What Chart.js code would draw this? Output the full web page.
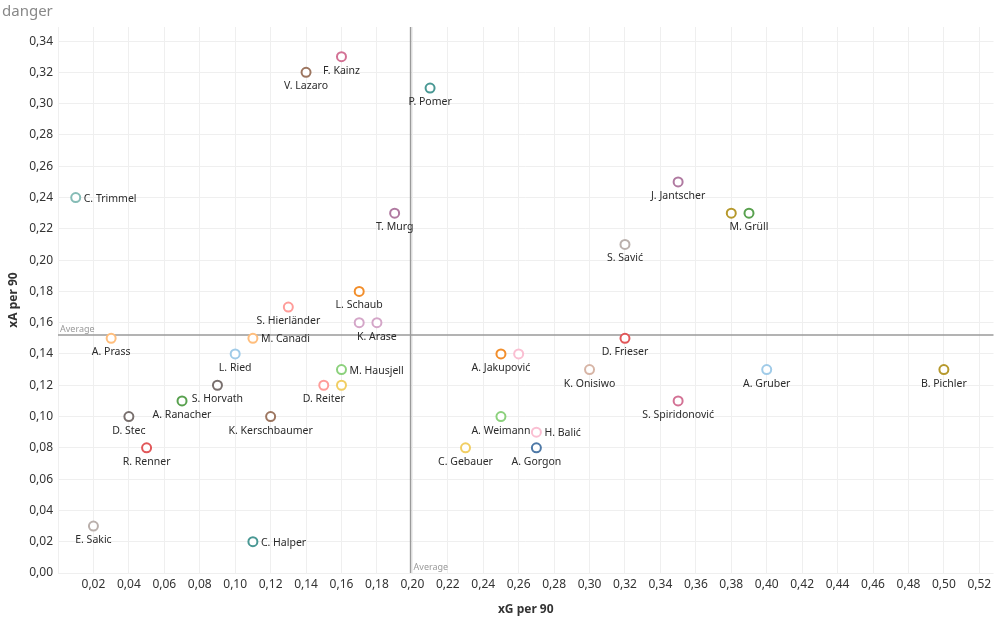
<!DOCTYPE html>
<html>
<head>
<meta charset="utf-8">
<script src="https://cdn.jsdelivr.net/npm/chart.js@4"></script>
<style>
  html, body { margin: 0; padding: 0; background: #fff; }
  #wrap { width: 1000px; height: 619px; }
</style>
</head>
<body>
<div id="wrap"><canvas id="chart" width="1000" height="619"></canvas></div>
<script>
// player names ('' = point drawn without a label)
const players = [
  "F. Kainz", "V. Lazaro", "P. Pomer", "C. Trimmel", "T. Murg", "J. Jantscher",
  "", "M. Grüll", "S. Savić", "L. Schaub", "S. Hierländer", "", "K. Arase",
  "A. Prass", "M. Canadi", "D. Frieser", "L. Ried", "A. Jakupović", "",
  "M. Hausjell", "K. Onisiwo", "A. Gruber", "B. Pichler", "S. Horvath",
  "D. Reiter", "", "A. Ranacher", "S. Spiridonović", "D. Stec", "K. Kerschbaumer",
  "A. Weimann", "H. Balić", "R. Renner", "C. Gebauer", "A. Gorgon", "E. Sakic", "C. Halper"
];
const xgPer90 = [
  0.16, 0.14, 0.21, 0.01, 0.19, 0.35,
  0.38, 0.39, 0.32, 0.17, 0.13, 0.17, 0.18,
  0.03, 0.11, 0.32, 0.10, 0.25, 0.26,
  0.16, 0.30, 0.40, 0.50, 0.09,
  0.15, 0.16, 0.07, 0.35, 0.04, 0.12,
  0.25, 0.27, 0.05, 0.23, 0.27, 0.02, 0.11
];
const xaPer90 = [
  0.33, 0.32, 0.31, 0.24, 0.23, 0.25,
  0.23, 0.23, 0.21, 0.18, 0.17, 0.16, 0.16,
  0.15, 0.15, 0.15, 0.14, 0.14, 0.14,
  0.13, 0.13, 0.13, 0.13, 0.12,
  0.12, 0.12, 0.11, 0.11, 0.10, 0.10,
  0.10, 0.09, 0.08, 0.08, 0.08, 0.03, 0.02
];
const avgXG = 0.199;
const avgXA = 0.1522;

const pointColors = [
  "#d37295", "#9d7660", "#499894", "#86bcb6", "#b07aa1", "#b07aa1",
  "#b6992d", "#59a14f", "#bab0ac", "#f28e2b", "#ff9d9a", "#d4a6c8", "#d4a6c8",
  "#ffbe7d", "#ffbe7d", "#e15759", "#a0cbe8", "#f28e2b", "#fabfd2",
  "#8cd17d", "#d7b5a6", "#a0cbe8", "#b6992d", "#79706e",
  "#ff9d9a", "#f1ce63", "#59a14f", "#d37295", "#79706e", "#9d7660",
  "#8cd17d", "#fabfd2", "#e15759", "#f1ce63", "#4e79a7", "#bab0ac", "#499894"
];
// these labels sit to the right of the mark instead of under it
const labelRight = ["C. Trimmel", "M. Canadi", "M. Hausjell", "H. Balić", "C. Halper"];

const comma = v => v.toFixed(2).replace(".", ",");

const pointLabels = {
  id: "pointLabels",
  afterDatasetsDraw(chart) {
    const ctx = chart.ctx;
    const meta = chart.getDatasetMeta(0);
    ctx.save();
    ctx.font = "10.5px 'Noto Sans'";
    ctx.fillStyle = "#2b2b2b";
    meta.data.forEach((pt, i) => {
      const name = players[i];
      if (!name) return;
      ctx.textBaseline = "middle";
      if (labelRight.includes(name)) {
        ctx.textAlign = "left";
        ctx.fillText(name, pt.x + 8, pt.y + 1);
      } else {
        ctx.textAlign = "center";
        ctx.fillText(name, pt.x, pt.y + 14);
      }
    });
    ctx.restore();
  }
};

const averageLines = {
  id: "averageLines",
  beforeDatasetsDraw(chart) {
    const { ctx, chartArea: a, scales } = chart;
    const x = scales.x.getPixelForValue(avgXG);
    const y = scales.y.getPixelForValue(avgXA);
    ctx.save();
    ctx.strokeStyle = "#9a9a9a";
    ctx.lineWidth = 1.5;
    ctx.beginPath();
    ctx.moveTo(a.left, y);
    ctx.lineTo(a.right, y);
    ctx.moveTo(x, a.top);
    ctx.lineTo(x, a.bottom);
    ctx.stroke();
    ctx.font = "9px 'Noto Sans'";
    ctx.fillStyle = "#999";
    ctx.textAlign = "left";
    ctx.textBaseline = "bottom";
    ctx.fillText("Average", a.left + 2, y - 1);
    ctx.fillText("Average", x + 3, a.bottom - 1);
    ctx.restore();
  }
};

new Chart(document.getElementById("chart").getContext("2d"), {
  type: "scatter",
  data: {
    datasets: [{
      data: xgPer90.map((v, i) => ({ x: v, y: xaPer90[i] })),
      pointRadius: 4.5,
      pointHoverRadius: 4.5,
      pointBorderWidth: 2,
      pointBackgroundColor: "#fff",
      pointBorderColor: pointColors
    }]
  },
  options: {
    responsive: false,
    animation: false,
    events: [],
    layout: { padding: { left: 2, right: 2, top: 0, bottom: 0 } },
    plugins: {
      legend: { display: false },
      tooltip: { enabled: false },
      title: {
        display: true,
        text: "danger",
        align: "start",
        color: "#888",
        font: { family: "'Noto Sans'", size: 15, weight: "normal" },
        padding: { top: 3, bottom: 6 }
      }
    },
    scales: {
      x: {
        type: "linear",
        min: 0,
        max: 0.528,
        afterFit: s => { s.height = 46; },
        afterBuildTicks: s => {
          s.ticks = s.ticks.filter(t => Math.abs(t.value * 50 - Math.round(t.value * 50)) < 1e-6);
        },
        ticks: {
          stepSize: 0.02,
          includeBounds: false,
          color: "#333",
          font: { family: "'Noto Sans'", size: 12 },
          padding: 4,
          maxRotation: 0,
          autoSkip: false,
          callback: v => (v < 0.001 ? "" : comma(v))
        },
        grid: { color: "#efefef", drawTicks: false },
        border: { display: false },
        title: {
          display: true,
          text: "xG per 90",
          color: "#333",
          font: { family: "'Noto Sans'", size: 12, weight: "bold" },
          padding: { top: 2, bottom: 2 }
        }
      },
      y: {
        type: "linear",
        min: 0,
        max: 0.349,
        afterFit: s => { s.width = 56; },
        afterBuildTicks: s => {
          s.ticks = s.ticks.filter(t => Math.abs(t.value * 50 - Math.round(t.value * 50)) < 1e-6);
        },
        ticks: {
          stepSize: 0.02,
          includeBounds: false,
          color: "#333",
          font: { family: "'Noto Sans'", size: 12 },
          padding: 5,
          autoSkip: false,
          callback: v => comma(v)
        },
        grid: { color: "#efefef", drawTicks: false },
        border: { display: false },
        title: {
          display: true,
          text: "xA per 90",
          color: "#333",
          font: { family: "'Noto Sans'", size: 12, weight: "bold" },
          padding: { top: 4, bottom: 0 }
        }
      }
    }
  },
  plugins: [averageLines, pointLabels]
});
</script>
</body>
</html>
